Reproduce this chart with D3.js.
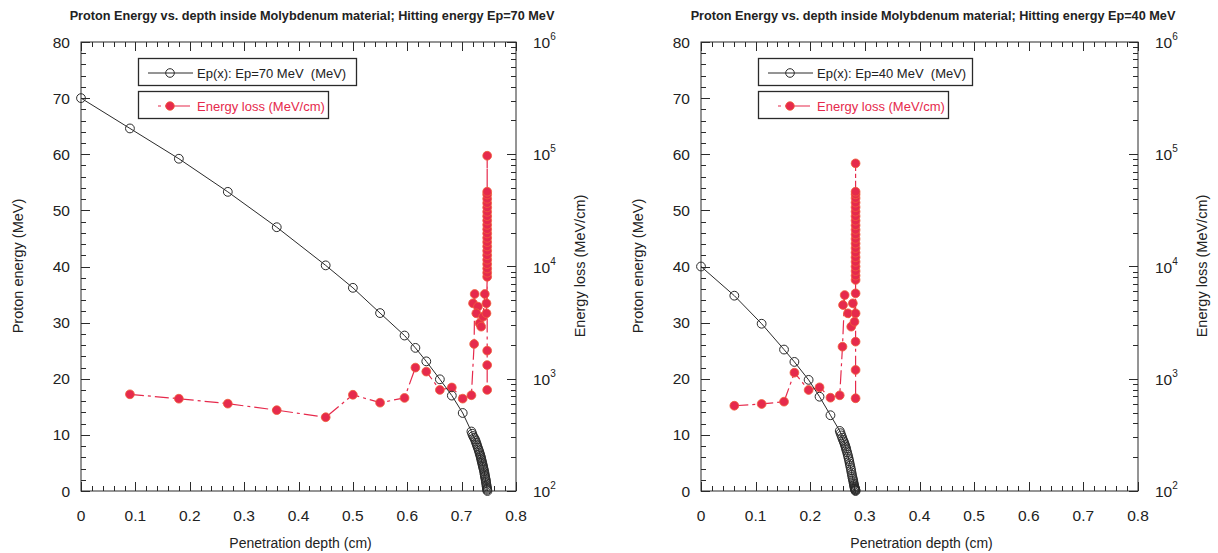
<!DOCTYPE html>
<html><head><meta charset="utf-8">
<script src="https://cdn.jsdelivr.net/npm/d3@7/dist/d3.min.js"></script>
<style>
body{margin:0;background:#fff;}
svg{display:block;font-family:"Liberation Sans",Arial,sans-serif;}
text{white-space:pre;}
</style></head>
<body><svg id="c" width="1218" height="553"></svg>
<script>
// ---------- Data: 70 MeV ----------
const titleA = "Proton Energy vs. depth inside Molybdenum material; Hitting energy Ep=70 MeV";
const legendEpA = "Ep(x): Ep=70 MeV  (MeV)";
const depthEpA = [0,0.09,0.18,0.27,0.36,0.45,0.5,0.55,0.595,0.615,0.635,0.66,0.682,0.702,0.718,
  0.7195,0.721,0.7228,0.7245,0.7256,0.7267,0.7278,0.7288,0.7299,0.731,0.732,0.7329,0.7337,0.7345,0.7352,
  0.7358,0.7364,0.737,0.7377,0.7383,0.7389,0.7395,0.7401,0.7407,0.7414,0.742,0.7424,0.7428,0.7433,0.7438,
  0.7443,0.7447,0.7452,0.7456,0.746,0.7464,0.7467,0.747,0.7475];
const energyA = [70,64.6,59.2,53.3,47.0,40.2,36.2,31.7,27.7,25.5,23.1,19.9,17.0,13.9,10.6,
  10.2,9.8,9.5,9.2,8.9,8.6,8.3,8.0,7.7,7.4,7.1,6.8,6.55,6.3,6.05,
  5.8,5.55,5.3,5.05,4.8,4.55,4.3,4.05,3.8,3.5,3.2,2.95,2.7,2.45,2.2,
  1.95,1.7,1.4,1.1,0.85,0.6,0.4,0.2,0];
const depthLossA = [0.09,0.18,0.27,0.36,0.45,0.5,0.55,0.595,0.615,0.635,0.66,0.682,0.702,0.718,0.723,
  0.724,0.721,0.730,0.727,0.733,0.736,0.7395,0.7426,0.7457,0.7457,
  0.747,0.747,0.747,0.747,0.747,0.747,0.747,0.747,0.747,0.747,0.747,0.747,0.747,0.747,0.747,0.747,0.747,0.747,0.747,0.747,0.747,
  0.747,0.747,0.747,0.747];
const lossA = [727,664,600,525,454,720,612,675,1257,1158,795,836,665,713,2040,
  5690,4700,4390,3830,3120,2910,3570,5690,4700,3830,
  8100,8800,9600,10500,11500,12600,13800,15100,16500,18000,19700,21500,23500,25700,28100,30700,33600,36700,40100,43800,46400,
  97000,1780,1325,795];

// ---------- Data: 40 MeV ----------
const titleB = "Proton Energy vs. depth inside Molybdenum material; Hitting energy Ep=40 MeV";
const legendEpB = "Ep(x): Ep=40 MeV  (MeV)";
const depthEpB = [0,0.061,0.111,0.152,0.171,0.197,0.217,0.237,0.254,
  0.2555,0.257,0.2585,0.26,0.2613,0.2625,0.2635,0.2645,0.2654,0.2662,0.2674,0.2685,0.2695,0.2705,0.2714,
  0.2722,0.2731,0.274,0.2748,0.2755,0.2763,0.2771,0.2778,0.2785,0.2791,0.2797,0.2802,0.2807,0.2811,0.2815,
  0.2819,0.2822,0.2825,0.2828,0.283];
const energyB = [40,34.8,29.8,25.2,23.0,19.8,16.8,13.5,10.7,
  10.3,9.9,9.5,9.1,8.8,8.5,8.2,7.9,7.6,7.3,6.9,6.5,6.1,5.7,5.3,
  4.9,4.5,4.1,3.7,3.3,2.9,2.5,2.2,1.9,1.6,1.3,1.05,0.8,0.65,0.5,
  0.4,0.3,0.2,0.1,0];
const depthLossB = [0.061,0.111,0.152,0.171,0.197,0.217,0.237,0.254,0.259,
  0.263,0.26,0.269,0.275,0.281,0.278,0.283,0.283,
  0.283,0.283,0.283,0.283,0.283,0.283,0.283,0.283,0.283,0.283,0.283,0.283,0.283,0.283,0.283,0.283,0.283,0.283,0.283,0.283,0.283,
  0.283,0.283,0.283,0.283];
const lossB = [575,596,625,1132,794,839,678,712,1930,
  5570,4540,3830,2910,3220,4700,3830,5770,
  7590,8300,9100,10000,11000,12100,13300,14600,16000,17600,19300,21200,23300,25600,28100,30800,33800,37100,40700,44000,46400,
  83000,2140,1197,670];

const legendLoss = "Energy loss (MeV/cm)";
const xTicks = [0,0.1,0.2,0.3,0.4,0.5,0.6,0.7,0.8];
const yTicks = [0,10,20,30,40,50,60,70,80];
const logTicks = [2,3,4,5,6];
const xLabel = "Penetration depth (cm)";
const yLabel = "Proton energy (MeV)";
const y2Label = "Energy loss (MeV/cm)";

const RED = "#e62a4c";
const RED_STROKE = "#f0603a";
const INK = "#2a2a2a";

const svg = d3.select("#c");

function drawChart(o) {
  const g = svg.append("g");
  const x = d3.scaleLinear().domain([0, 0.8]).range([o.x0, o.x1]);
  const y = d3.scaleLinear().domain([0, 80]).range([491, 42]);
  const y2 = d3.scaleLog().domain([1e2, 1e6]).range([491, 42]);

  // title
  g.append("text").attr("x", o.titleX).attr("y", 20).attr("text-anchor", "middle")
    .attr("font-size", 12.7).attr("font-weight", "bold").attr("fill", "#222").text(o.title);

  // frame
  g.append("rect").attr("x", o.x0).attr("y", 42).attr("width", o.x1 - o.x0).attr("height", 449)
    .attr("fill", "none").attr("stroke", INK).attr("stroke-width", 1);

  const minorX = d3.range(0, 41).map(i => i * 0.02);
  const minorY = d3.range(0, 41).map(i => i * 2);
  const ticks = g.append("g").attr("stroke", INK).attr("stroke-width", 1);
  minorX.forEach((v, i) => {
    const L = (i % 5 === 0) ? 9 : 5;
    const px = Math.round(x(v)) + 0.5;
    ticks.append("line").attr("x1", px).attr("x2", px).attr("y1", 491).attr("y2", 491 - L);
    ticks.append("line").attr("x1", px).attr("x2", px).attr("y1", 42).attr("y2", 42 + L);
  });
  minorY.forEach((v, i) => {
    const L = (i % 5 === 0) ? 9 : 5;
    const py = Math.round(y(v)) + 0.5;
    ticks.append("line").attr("x1", o.x0).attr("x2", o.x0 + L).attr("y1", py).attr("y2", py);
  });
  for (let d = 2; d <= 6; d++) {
    for (let m = 1; m <= 9; m++) {
      const v = m * Math.pow(10, d);
      if (v > 1e6) break;
      const L = m === 1 ? 9 : 5;
      const py = Math.round(y2(v)) + 0.5;
      ticks.append("line").attr("x1", o.x1).attr("x2", o.x1 - L).attr("y1", py).attr("y2", py);
    }
  }

  // tick labels
  const lab = g.append("g").attr("font-size", 15.5).attr("fill", "#222");
  xTicks.forEach(v => {
    lab.append("text").attr("x", x(v)).attr("y", 521).attr("text-anchor", "middle").text(v === 0 ? "0" : v.toFixed(1));
  });
  yTicks.forEach(v => {
    lab.append("text").attr("x", o.x0 - 11).attr("y", y(v) + 5.5).attr("text-anchor", "end").text(v);
  });
  logTicks.forEach(p => {
    const t = lab.append("text").attr("x", o.x1 + 17).attr("y", y2(Math.pow(10, p)) + 6);
    t.append("tspan").text("10");
    t.append("tspan").attr("font-size", 10).attr("dy", -8).text(p);
  });

  // axis titles
  g.append("text").attr("x", (o.x0 + o.x1) / 2 + 2).attr("y", 548).attr("text-anchor", "middle")
    .attr("font-size", 14).attr("fill", "#222").text(xLabel);
  g.append("text").attr("transform", `translate(${o.x0 - 58},266) rotate(-90)`).attr("text-anchor", "middle")
    .attr("font-size", 14.5).attr("fill", "#222").text(yLabel);
  g.append("text").attr("transform", `translate(${o.x1 + 69},266) rotate(-90)`).attr("text-anchor", "middle")
    .attr("font-size", 14.5).attr("fill", "#222").text(y2Label);

  // energy loss series
  const lossPts = o.depthLoss.map((d, i) => [d, o.loss[i]]);
  g.append("path").datum(lossPts)
    .attr("d", d3.line().x(d => x(d[0])).y(d => y2(d[1])))
    .attr("fill", "none").attr("stroke", RED).attr("stroke-width", 1.2)
    .attr("stroke-dasharray", "14,4,3,4");
  g.append("g").selectAll("circle").data(lossPts).join("circle")
    .attr("cx", d => x(d[0])).attr("cy", d => y2(d[1])).attr("r", 4.4)
    .attr("fill", RED).attr("stroke", RED_STROKE).attr("stroke-width", 0.8);

  // Ep series
  const epPts = o.depthEp.map((d, i) => [d, o.energy[i]]);
  g.append("path").datum(epPts)
    .attr("d", d3.line().x(d => x(d[0])).y(d => y(d[1])))
    .attr("fill", "none").attr("stroke", INK).attr("stroke-width", 1);
  g.append("g").selectAll("circle").data(epPts).join("circle")
    .attr("cx", d => x(d[0])).attr("cy", d => y(d[1])).attr("r", 4.4)
    .attr("fill", "none").attr("stroke", INK).attr("stroke-width", 1);

  // legends
  const lx = o.x0 + 57;
  const l1 = g.append("g");
  l1.append("rect").attr("x", lx + 0.5).attr("y", 58.5).attr("width", o.leg1W).attr("height", 27)
    .attr("fill", "#fff").attr("stroke", INK).attr("stroke-width", 1.3);
  l1.append("line").attr("x1", lx + 10).attr("x2", lx + 55).attr("y1", 73).attr("y2", 73).attr("stroke", INK);
  l1.append("circle").attr("cx", lx + 32).attr("cy", 73).attr("r", 4.3).attr("fill", "none").attr("stroke", INK);
  l1.append("text").attr("x", lx + 59).attr("y", 78).attr("font-size", 13).attr("fill", "#222").text(o.legendEp);

  const l2 = g.append("g");
  l2.append("rect").attr("x", lx + 0.5).attr("y", 91.5).attr("width", o.leg2W).attr("height", 27)
    .attr("fill", "#fff").attr("stroke", INK).attr("stroke-width", 1.3);
  l2.append("line").attr("x1", lx + 20).attr("x2", lx + 52).attr("y1", 106).attr("y2", 106)
    .attr("stroke", RED).attr("stroke-width", 1.2).attr("stroke-dasharray", "3,4,40");
  l2.append("circle").attr("cx", lx + 32).attr("cy", 106).attr("r", 4.3).attr("fill", RED).attr("stroke", RED_STROKE).attr("stroke-width", 0.8);
  l2.append("text").attr("x", lx + 59).attr("y", 111).attr("font-size", 13).attr("fill", RED).text(legendLoss);
}

drawChart({x0: 81, x1: 516, titleX: 312, title: titleA, legendEp: legendEpA, leg1W: 218, leg2W: 190,
  depthEp: depthEpA, energy: energyA, depthLoss: depthLossA, loss: lossA});
drawChart({x0: 701, x1: 1138, titleX: 933, title: titleB, legendEp: legendEpB, leg1W: 214, leg2W: 190,
  depthEp: depthEpB, energy: energyB, depthLoss: depthLossB, loss: lossB});
</script></body></html>
